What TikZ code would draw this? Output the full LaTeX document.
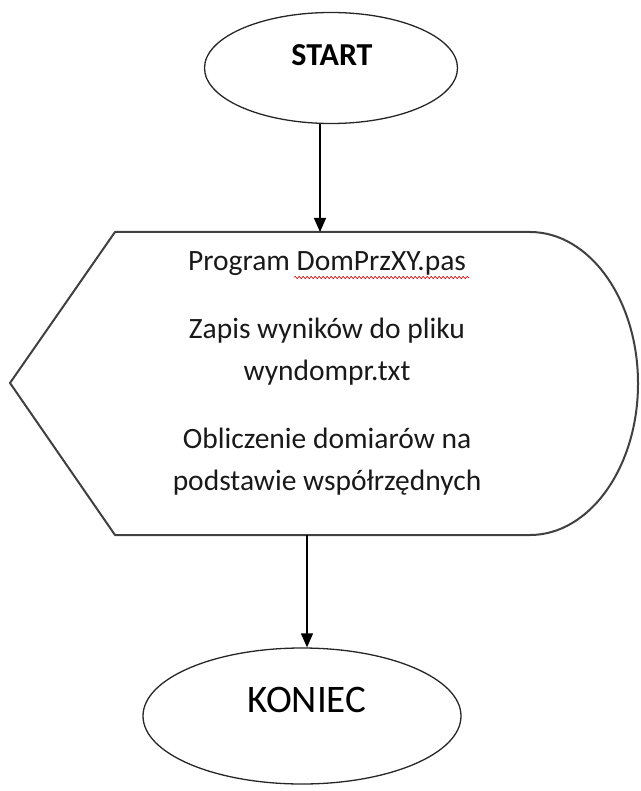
\documentclass[tikz,border=0pt]{standalone}
\usepackage{fontspec}
\setmainfont{Carlito}
\usetikzlibrary{shapes.geometric,arrows.meta,decorations.pathmorphing}
\begin{document}
\begin{tikzpicture}[x=1pt,y=-1pt,
  term/.style={draw=black!85,line width=1.3pt,ellipse,inner sep=0pt},
  arr/.style={draw=black,line width=1.3pt,-{Triangle[length=14pt,width=12pt]}},
  body/.style={font=\fontsize{29.5}{33}\selectfont,anchor=base,inner sep=0pt,text=black!90}]
\useasboundingbox (0,0) rectangle (640,791);
% START
\node[term,minimum width=253pt,minimum height=111pt] (start) at (331,68) {};
\node[font=\bfseries\fontsize{32}{36}\selectfont,anchor=base,inner sep=0pt] (starttxt) at (332,66) {START};
% display shape
\draw[draw=black!75,line width=2pt,line join=round]
  (10,383) -- (115,232) -- (530,232)
  arc[start angle=90,end angle=-90,x radius=108pt,y radius=151.5pt]
  -- (115,535) -- cycle;
\node[inner sep=0pt,minimum width=628pt,minimum height=303pt] (proc) at (325,383.5) {};
\coordinate (in) at (320,232);
\coordinate (out) at (307,535);
\node[body] (l1) at (327,270) {Program DomPrzXY.pas};
\node[body] (l2) at (327,338) {Zapis wyników do pliku};
\node[body] (l3) at (327,380) {wyndompr.txt};
\node[body] (l4) at (327,448) {Obliczenie domiarów na};
\node[body] (l5) at (327,490) {podstawie współrzędnych};
\coordinate (sq1) at (294,277.5);
\coordinate (sq2) at (469,277.5);
\draw[red!90!black,line width=0.6pt,decorate,decoration={snake,amplitude=1.2pt,segment length=4pt}] (sq1) -- (sq2);
% KONIEC
\node[term,minimum width=318pt,minimum height=136pt] (koniec) at (302,716) {};
\node[font=\fontsize{39}{43}\selectfont,anchor=base,inner sep=0pt] (kontxt) at (307,712) {KONIEC};
% arrows
\draw[arr] (start.south -| in) -- (in);
\draw[arr] (out) -- (koniec.north -| out);
\end{tikzpicture}
\end{document}
